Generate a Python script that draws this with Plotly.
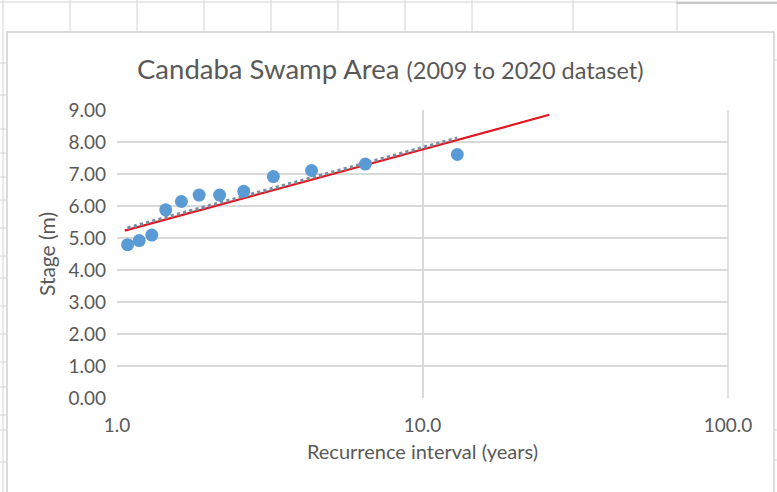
import numpy as np
import plotly.graph_objects as go

# Observed annual maximum stages, ranked, with their recurrence intervals (years)
recurrence_years = [13.0, 6.5, 4.333, 3.25, 2.6, 2.167, 1.857, 1.625, 1.444, 1.3, 1.182, 1.083]
stage_m = [7.61, 7.31, 7.11, 6.92, 6.46, 6.34, 6.34, 6.14, 5.88, 5.09, 4.92, 4.79]

# Fitted frequency line (red)
fit_interval = [1.06, 26.0]
fit_stage = [5.23, 8.85]

# Axis ticks
x_tickvals = [1, 10, 100]
x_ticktext = ["1.0", "10.0", "100.0"]
y_tickvals = [0, 1, 2, 3, 4, 5, 6, 7, 8, 9]

# Logarithmic trendline through the observations
lx = np.log10(recurrence_years)
slope, intercept = np.polyfit(lx, stage_m, 1)
trend_x = np.array([min(recurrence_years), max(recurrence_years)])
trend_y = intercept + slope * np.log10(trend_x)

W, H = 777, 492
L, R, T, B = 117, 49, 110, 94
PW, PH = W - L - R, H - T - B


def px(x):
    return (x - L) / PW


def py(y):
    return (H - B - y) / PH


GRID = "#d9d9d9"
TEXT = "#595959"
FONT = "Lato, 'Liberation Sans', sans-serif"
SHEET = "#d4d4d4"

fig = go.Figure()

fig.add_trace(go.Scatter(
    x=fit_interval, y=fit_stage, mode="lines",
    line=dict(color="#e3151f", width=2.2), showlegend=False, hoverinfo="skip",
))
fig.add_trace(go.Scatter(
    x=trend_x, y=trend_y, mode="lines",
    line=dict(color="#7d8ca3", width=3.2, dash="dot"), showlegend=False, hoverinfo="skip",
))
fig.add_trace(go.Scatter(
    x=recurrence_years, y=stage_m, mode="markers",
    marker=dict(color="#5b9bd5", size=13, line=dict(width=0)), showlegend=False,
))

shapes = []
# spreadsheet cell grid behind the chart
shapes.append(dict(type="line", xref="paper", yref="paper", x0=px(0), x1=px(W), y0=py(2), y1=py(2),
                   line=dict(color=SHEET, width=1), layer="below"))
shapes.append(dict(type="line", xref="paper", yref="paper", x0=px(676), x1=px(W), y0=py(3), y1=py(3),
                   line=dict(color="#c8c8c8", width=2), layer="below"))
for cx in [70, 137, 204, 271, 338, 405, 472, 573, 677]:
    shapes.append(dict(type="line", xref="paper", yref="paper", x0=px(cx), x1=px(cx), y0=py(0), y1=py(32),
                       line=dict(color=SHEET, width=1), layer="below"))
shapes.append(dict(type="line", xref="paper", yref="paper", x0=px(3), x1=px(3), y0=py(0), y1=py(H),
                   line=dict(color=SHEET, width=1), layer="below"))
for ry in [63, 95, 129, 153, 177, 200, 228, 256, 278, 306, 334, 362, 387, 415, 430, 462]:
    shapes.append(dict(type="line", xref="paper", yref="paper", x0=px(0), x1=px(6), y0=py(ry), y1=py(ry),
                       line=dict(color=SHEET, width=1), layer="below"))
for ry in [60, 430, 460]:
    shapes.append(dict(type="line", xref="paper", yref="paper", x0=px(775), x1=px(W), y0=py(ry), y1=py(ry),
                       line=dict(color=SHEET, width=1), layer="below"))
# chart frame
shapes.append(dict(type="rect", xref="paper", yref="paper", x0=px(7), x1=px(774), y0=py(32), y1=py(H + 10),
                   line=dict(color="#d0d0d0", width=1.5), fillcolor="white", layer="below"))

fig.update_layout(
    width=W, height=H,
    margin=dict(l=L, r=R, t=T, b=B, pad=0),
    paper_bgcolor="white", plot_bgcolor="white",
    font=dict(family=FONT, color=TEXT),
    shapes=shapes,
    xaxis=dict(
        type="log", range=[0, 2], tickvals=x_tickvals, ticktext=x_ticktext,
        showgrid=True, gridcolor=GRID, gridwidth=1.6, zeroline=False, showline=False,
        tickfont=dict(size=19, color=TEXT), ticks="", ticklabelstandoff=14,
        title=dict(text="Recurrence interval (years)", font=dict(size=20, color=TEXT), standoff=9),
        automargin=False, fixedrange=True,
    ),
    yaxis=dict(
        range=[0, 9], tickvals=y_tickvals, tickformat=".2f",
        showgrid=True, gridcolor=GRID, gridwidth=1.6, zeroline=False, showline=False,
        tickfont=dict(size=19, color=TEXT), ticks="", ticklabelstandoff=10,
        title=dict(text="Stage (m)", font=dict(size=21, color=TEXT), standoff=7),
        automargin=False, fixedrange=True,
    ),
    annotations=[dict(
        xref="paper", yref="paper", x=px(390.5), y=py(69), xanchor="center", yanchor="middle",
        text="Candaba Swamp Area <span style='font-size:23.5px'>(2009 to 2020 dataset)</span>",
        font=dict(size=27.5, color=TEXT, family=FONT), showarrow=False,
    )],
)

# right edge of the plot area
fig.add_shape(type="line", xref="paper", yref="paper", x0=1, x1=1, y0=0, y1=1, line=dict(color=GRID, width=1.6))

fig.write_html("out.html")
